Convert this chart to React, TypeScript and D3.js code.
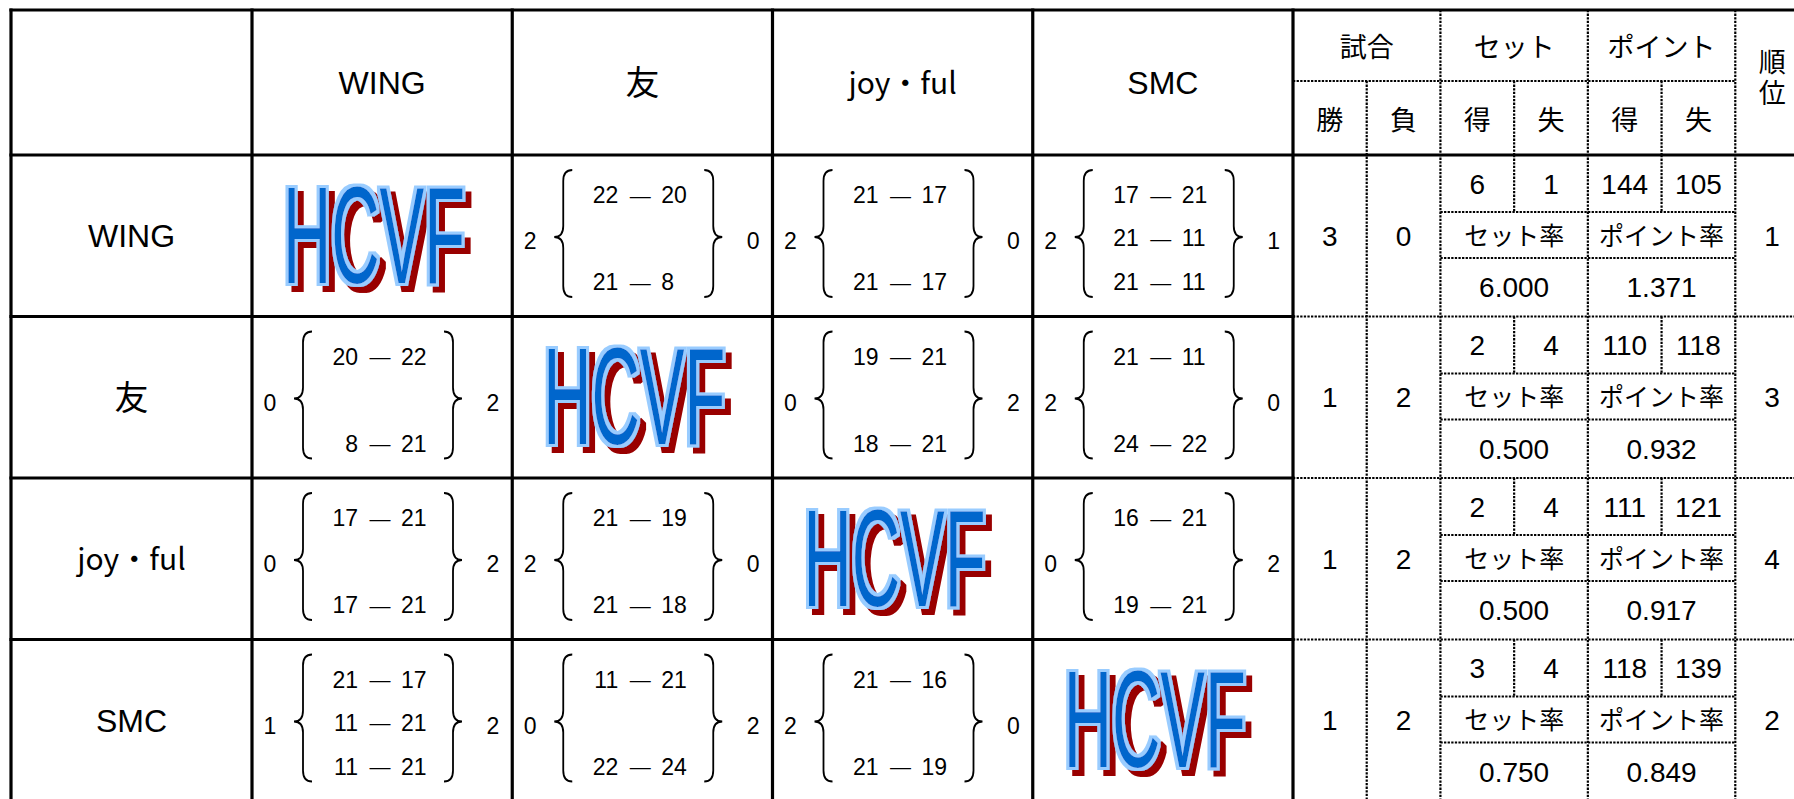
import { useEffect, useRef } from 'react';
import * as d3 from 'd3';

// --- datos de la tabla (liga de 4 equipos) ---
const teams = ['WING', '友', 'joy・ful', 'SMC'];

// sets de cada partido: [propio, rival]; null = fila vacía dentro de la llave
const matchSets = [
  [null, [[22, 20], null, [21, 8]], [[21, 17], null, [21, 17]], [[17, 21], [21, 11], [21, 11]]],
  [[[20, 22], null, [8, 21]], null, [[19, 21], null, [18, 21]], [[21, 11], null, [24, 22]]],
  [[[17, 21], null, [17, 21]], [[21, 19], null, [21, 18]], null, [[16, 21], null, [19, 21]]],
  [[[21, 17], [11, 21], [11, 21]], [[11, 21], null, [22, 24]], [[21, 16], null, [21, 19]], null],
];
const setsWonInMatch = [
  [null, 2, 2, 2],
  [0, null, 0, 2],
  [0, 2, null, 0],
  [1, 0, 2, null],
];
const setsLostInMatch = [
  [null, 0, 0, 1],
  [2, null, 2, 0],
  [2, 0, null, 2],
  [2, 2, 0, null],
];

const matchWins = [3, 1, 1, 1];
const matchLosses = [0, 2, 2, 2];
const setFor = [6, 2, 2, 3];
const setAgainst = [1, 4, 4, 4];
const pointFor = [144, 110, 111, 118];
const pointAgainst = [105, 118, 121, 139];
const setRate = ['6.000', '0.500', '0.500', '0.750'];
const pointRate = ['1.371', '0.932', '0.917', '0.849'];
const ranks = [1, 3, 4, 2];

const groupLabels = ['試合', 'セット', 'ポイント'];
const subLabels = ['勝', '負', '得', '失', '得', '失'];
const rankLabel = ['順', '位'];
const rateLabels = ['セット率', 'ポイント率'];
const logoText = 'HCVF';

const LATIN = "'Liberation Sans', Arial, sans-serif";
const CJK = "'Noto Sans CJK JP', 'Noto Sans CJK SC', sans-serif";

const LeagueTable = () => {
  const ref = useRef(null);

  useEffect(() => {
    const svg = d3.select(ref.current);
    svg.selectAll('*').remove();

    const W = 1794;
    const H = 799;
    const left = 11;
    const top = 10;
    const headMid = 81;
    const headBottom = 155;
    const bottom = 801;

    // escalas
    const xTeam = d3.scaleBand().domain(d3.range(4)).range([252, 1293]);
    const yRow = d3.scaleBand().domain(d3.range(4)).range([headBottom, bottom]);
    const xStat = d3.scaleLinear().domain([0, 7]).range([1293, 1809]);
    const statMid = (i) => (xStat(i) + xStat(i + 1)) / 2;
    const tw = xTeam.bandwidth();
    const rh = yRow.bandwidth();
    const sub1 = 57;
    const sub2 = 103;

    // filtro del logo: contorno celeste + sombra granate
    const defs = svg.append('defs');
    const f = defs.append('filter').attr('id', 'logoFx')
      .attr('x', '-10%').attr('y', '-10%').attr('width', '130%').attr('height', '130%');
    f.append('feMorphology').attr('in', 'SourceAlpha').attr('operator', 'dilate')
      .attr('radius', 2.6).attr('result', 'dil');
    f.append('feFlood').attr('flood-color', '#99ccff').attr('result', 'c1');
    f.append('feComposite').attr('in', 'c1').attr('in2', 'dil').attr('operator', 'in').attr('result', 'outline');
    f.append('feOffset').attr('in', 'dil').attr('dx', 6).attr('dy', 6).attr('result', 'off');
    f.append('feFlood').attr('flood-color', '#990000').attr('result', 'c2');
    f.append('feComposite').attr('in', 'c2').attr('in2', 'off').attr('operator', 'in').attr('result', 'shadow');
    const merge = f.append('feMerge');
    merge.append('feMergeNode').attr('in', 'shadow');
    merge.append('feMergeNode').attr('in', 'outline');
    merge.append('feMergeNode').attr('in', 'SourceGraphic');

    svg.append('rect').attr('width', W).attr('height', H).attr('fill', '#fff');

    const g = svg.append('g');

    const text = (x, y, str, size, font, anchor = 'middle') => {
      const k = font === CJK ? 0.38 : 0.36;
      return g.append('text')
        .attr('x', x).attr('y', y + size * k)
        .attr('text-anchor', anchor)
        .attr('font-family', font)
        .attr('font-size', size)
        .attr('fill', '#000')
        .text(str);
    };

    const solid = (x1, y1, x2, y2) => g.append('line')
      .attr('x1', x1).attr('y1', y1).attr('x2', x2).attr('y2', y2)
      .attr('stroke', '#000').attr('stroke-width', 3.2).attr('stroke-linecap', 'square');

    const dotted = (x1, y1, x2, y2) => g.append('line')
      .attr('x1', x1).attr('y1', y1).attr('x2', x2).attr('y2', y2)
      .attr('stroke', '#000').attr('stroke-width', 2.2).attr('stroke-dasharray', '2.3,1.3');

    // --- lineas punteadas de la zona de estadisticas ---
    dotted(xStat(0), headMid, xStat(6), headMid);
    dotted(xStat(1), headMid, xStat(1), bottom);
    [2, 4, 6, 7].forEach(i => dotted(xStat(i), top, xStat(i), bottom));
    [3, 5].forEach(i => dotted(xStat(i), headMid, xStat(i), headBottom));
    d3.range(4).forEach(r => {
      const y0 = yRow(r);
      [3, 5].forEach(i => dotted(xStat(i), y0, xStat(i), y0 + sub1));
      dotted(xStat(2), y0 + sub1, xStat(6), y0 + sub1);
      dotted(xStat(2), y0 + sub2, xStat(6), y0 + sub2);
      if (r > 0) dotted(xStat(0), y0, W + 20, y0);
    });

    // --- lineas gruesas ---
    solid(left, top, W + 20, top);
    solid(left, top, left, bottom);
    solid(left, headBottom, W + 20, headBottom);
    d3.range(4).forEach(c => solid(xTeam(c), top, xTeam(c), bottom));
    solid(xStat(0), top, xStat(0), bottom);
    d3.range(1, 4).forEach(r => solid(left, yRow(r), xStat(0), yRow(r)));
    solid(left, bottom, W + 20, bottom);

    // --- encabezados ---
    const isLatin = (t) => /^[A-Za-z]+$/.test(t);
    const nameFont = (t) => (isLatin(t) ? LATIN : CJK);
    const nameSize = (t) => (isLatin(t) ? 32 : t.length === 1 ? 34 : 30);
    const headCenter = (top + headBottom) / 2;
    teams.forEach((t, c) => text(xTeam(c) + tw / 2, headCenter, t, nameSize(t), nameFont(t)));
    teams.forEach((t, r) => text((left + xTeam(0)) / 2, yRow(r) + rh / 2, t, nameSize(t), nameFont(t)));

    groupLabels.forEach((t, i) => text(xStat(2 * i + 1), (top + headMid) / 2 + 1, t, 27, CJK));
    subLabels.forEach((t, i) => text(statMid(i), (headMid + headBottom) / 2 + 2, t, 27, CJK));
    rankLabel.forEach((t, i) => text(statMid(6), 62 + i * 31, t, 27, CJK));

    // --- llaves ---
    const brace = (xt, yt, yb, ym, dir) => {
      const xs = xt + dir * 9;
      const xe = xt + dir * 18;
      const r = 11;
      const p = d3.path();
      p.moveTo(xe, yt);
      p.quadraticCurveTo(xs, yt, xs, yt + r);
      p.lineTo(xs, ym - r);
      p.quadraticCurveTo(xs, ym, xt, ym);
      p.quadraticCurveTo(xs, ym, xs, ym + r);
      p.lineTo(xs, yb - r);
      p.quadraticCurveTo(xs, yb, xe, yb);
      g.append('path').attr('d', p.toString())
        .attr('fill', 'none').attr('stroke', '#000').attr('stroke-width', 1.8);
    };

    const lineY = [40, 83, 127];
    const logoSize = 137;
    const logoScaleX = 182 / (2.722 * logoSize);

    d3.range(4).forEach(r => {
      const y0 = yRow(r);
      d3.range(4).forEach(c => {
        const x0 = xTeam(c);
        const sets = matchSets[r][c];
        if (!sets) {
          // logo en la diagonal
          g.append('g').attr('filter', 'url(#logoFx)')
            .append('text')
            .attr('transform', `translate(${x0 + 31},${y0 + 127.5}) scale(${logoScaleX},1)`)
            .attr('font-family', LATIN).attr('font-size', logoSize)
            .attr('fill', '#0066cc')
            .text(logoText);
          return;
        }
        text(x0 + 18, y0 + 86, setsWonInMatch[r][c], 23, LATIN);
        text(x0 + 241, y0 + 86, setsLostInMatch[r][c], 23, LATIN);
        brace(x0 + 42, y0 + 15, y0 + 142, y0 + 82, 1);
        brace(x0 + 210, y0 + 15, y0 + 142, y0 + 82, -1);
        sets.forEach((s, i) => {
          if (!s) return;
          const cy = y0 + lineY[i];
          text(x0 + 106, cy, s[0], 23, LATIN, 'end');
          text(x0 + 128, cy, '—', 21, LATIN);
          text(x0 + 149, cy, s[1], 23, LATIN, 'start');
        });
      });

      // --- estadisticas ---
      const cMid = y0 + rh / 2;
      const cTop = y0 + sub1 / 2;
      const cRate = y0 + (sub1 + sub2) / 2;
      const cVal = y0 + (sub2 + rh) / 2;
      text(statMid(0), cMid, matchWins[r], 28, LATIN);
      text(statMid(1), cMid, matchLosses[r], 28, LATIN);
      text(statMid(2), cTop, setFor[r], 28, LATIN);
      text(statMid(3), cTop, setAgainst[r], 28, LATIN);
      text(statMid(4), cTop, pointFor[r], 28, LATIN);
      text(statMid(5), cTop, pointAgainst[r], 28, LATIN);
      rateLabels.forEach((t, i) => text(xStat(2 * i + 3), cRate, t, 25, CJK));
      text(xStat(3), cVal, setRate[r], 28, LATIN);
      text(xStat(5), cVal, pointRate[r], 28, LATIN);
      text(statMid(6), cMid, ranks[r], 28, LATIN);
    });
  }, []);

  return (
    <svg ref={ref} width={1794} height={799}
      style={{ position: 'fixed', left: 0, top: 0, display: 'block' }} />
  );
};

export default function App() {
  return <LeagueTable />;
}
